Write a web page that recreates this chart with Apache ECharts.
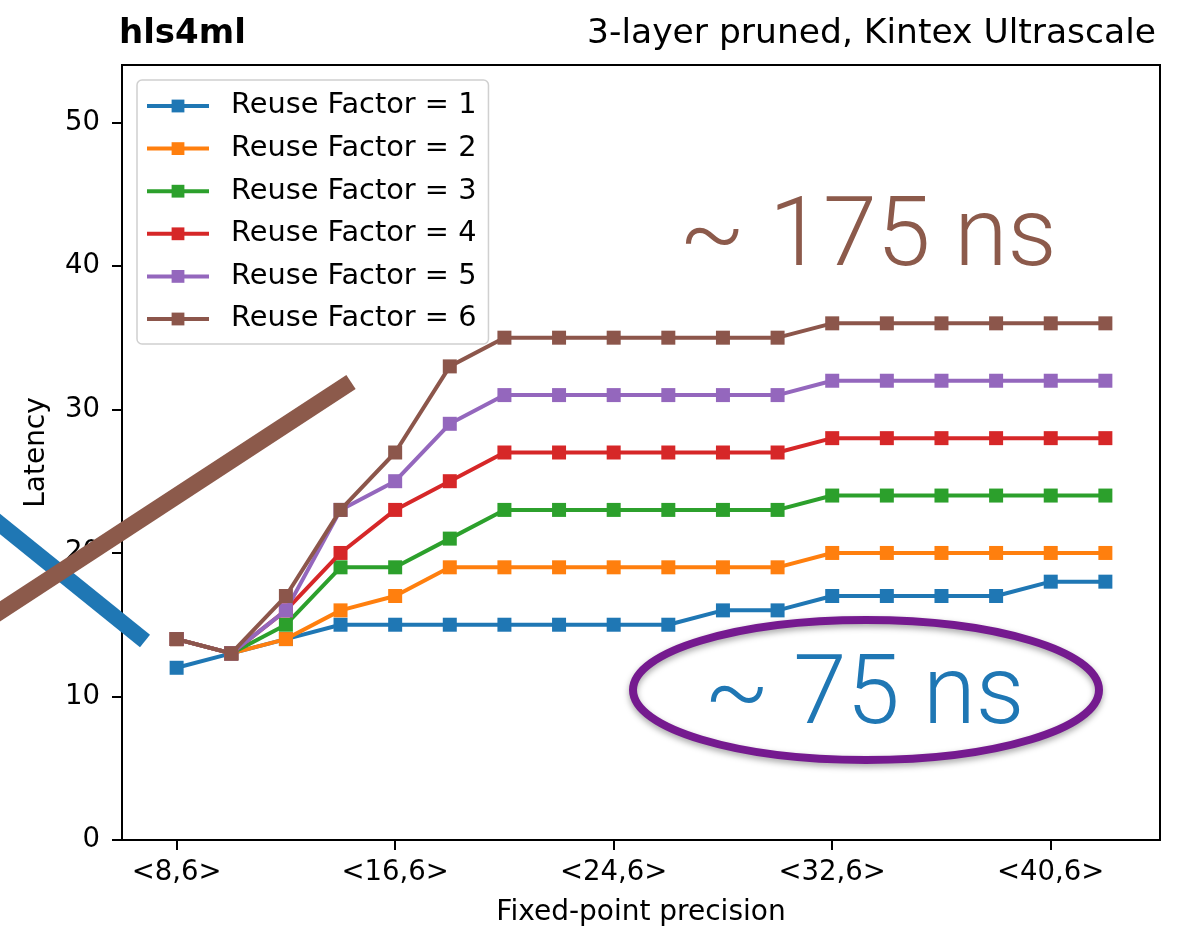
<!DOCTYPE html>
<html><head><meta charset="utf-8">
<script src="https://cdn.jsdelivr.net/npm/echarts@6/dist/echarts.min.js"></script>
<style>html,body{margin:0;padding:0;background:#fff}#c{width:1188px;height:929px}</style>
</head><body><div id="c"></div>
<script>
// data
const bits = [8,10,12,14,16,18,20,22,24,26,28,30,32,34,36,38,40,42];
const rf1 = [12,13,14,15,15,15,15,15,15,15,16,16,17,17,17,17,18,18];
const rf2 = [14,13,14,16,17,19,19,19,19,19,19,19,20,20,20,20,20,20];
const rf3 = [14,13,15,19,19,21,23,23,23,23,23,23,24,24,24,24,24,24];
const rf4 = [14,13,16,20,23,25,27,27,27,27,27,27,28,28,28,28,28,28];
const rf5 = [14,13,16,23,25,29,31,31,31,31,31,31,32,32,32,32,32,32];
const rf6 = [14,13,17,23,27,33,35,35,35,35,35,35,36,36,36,36,36,36];
const seriesNames = ['Reuse Factor = 1','Reuse Factor = 2','Reuse Factor = 3','Reuse Factor = 4','Reuse Factor = 5','Reuse Factor = 6'];
const xTicks = [8,16,24,32,40];
const yTicks = [0,10,20,30,40,50];

const colors = ['#1f77b4','#ff7f0e','#2ca02c','#d62728','#9467bd','#8c564b'];
const all = [rf1,rf2,rf3,rf4,rf5,rf6];
const font = 'DejaVu Sans';

const chart = echarts.init(document.getElementById('c'));
chart.setOption({
  animation: false,
  backgroundColor: '#fff',
  color: colors,
  grid: {left:122, right:28, top:65, bottom:89, show:true, borderColor:'#000', borderWidth:2, backgroundColor:'transparent', outerBoundsMode:'none', containLabel:false},
  title: [
    {text:'hls4ml', left:114, top:12, textStyle:{fontFamily:font, fontWeight:'bold', fontSize:34, color:'#000'}},
    {text:'3-layer pruned, Kintex Ultrascale', right:27, top:12, textStyle:{fontFamily:font, fontWeight:'normal', fontSize:34.5, color:'#000'}}
  ],
  legend: {
    orient:'vertical', left:137, top:80,
    data: seriesNames,
    itemWidth:62, itemHeight:16, itemGap:12.6,
    padding:[11,12,10,8],
    borderColor:'#d0d0d0', borderWidth:1.5, borderRadius:5,
    backgroundColor:'rgba(255,255,255,0.8)',
    lineStyle:{width:4},
    textStyle:{fontFamily:font, fontSize:28.8, color:'#000', lineHeight:30, padding:[0,0,0,17]}
  },
  xAxis: {
    type:'value', min:6, max:44,
    name:'Fixed-point precision', nameLocation:'middle', nameGap:59,
    nameTextStyle:{fontFamily:font, fontSize:28, color:'#000'},
    axisLine:{show:true, lineStyle:{color:'#000', width:2}},
    axisTick:{show:true, length:10, lineStyle:{color:'#000', width:2}, customValues: xTicks},
    axisLabel:{fontFamily:font, fontSize:27.5, color:'#000', margin:19, customValues: xTicks, formatter: v => '<' + v + ',6>'},
    splitLine:{show:false}
  },
  yAxis: {
    type:'value', min:0, max:54,
    name:'Latency', nameLocation:'middle', nameGap:71, nameRotate:90,
    nameTextStyle:{fontFamily:font, fontSize:28, color:'#000'},
    axisLine:{show:true, lineStyle:{color:'#000', width:2}},
    axisTick:{show:true, length:10, lineStyle:{color:'#000', width:2}, customValues: yTicks},
    axisLabel:{fontFamily:font, fontSize:27.5, color:'#000', margin:22, customValues: yTicks},
    splitLine:{show:false}
  },
  series: all.map((vals, i) => ({
    name: seriesNames[i], type:'line',
    data: bits.map((b, j) => [b, vals[j]]),
    symbol:'rect', symbolSize:14, showSymbol:true,
    lineStyle:{width:4, color:colors[i]},
    itemStyle:{color:colors[i]},
    z: 2 + i
  })),
  graphic: [
    {type:'line', z:100, shape:{x1:-10, y1:516, x2:145, y2:641}, style:{stroke:'#1f77b4', lineWidth:16}},
    {type:'line', z:101, shape:{x1:-10, y1:618, x2:351, y2:382}, style:{stroke:'#8c5a4b', lineWidth:17}},
    {type:'ellipse', z:100, shape:{cx:866, cy:690, rx:233, ry:70}, style:{fill:'none', stroke:'#751a8f', lineWidth:8, shadowBlur:6, shadowColor:'rgba(0,0,0,0.35)', shadowOffsetY:3}},
    {type:'text', z:102, left:704, top:651, style:{text:'~ 75 ns', font:'300 96px Roboto', fill:'#1f77b4'}},
    {type:'text', z:102, left:679, top:192, style:{text:'~ 175 ns', font:'300 97px Roboto', fill:'#8c5a4b'}}
  ]
});
</script></body></html>
